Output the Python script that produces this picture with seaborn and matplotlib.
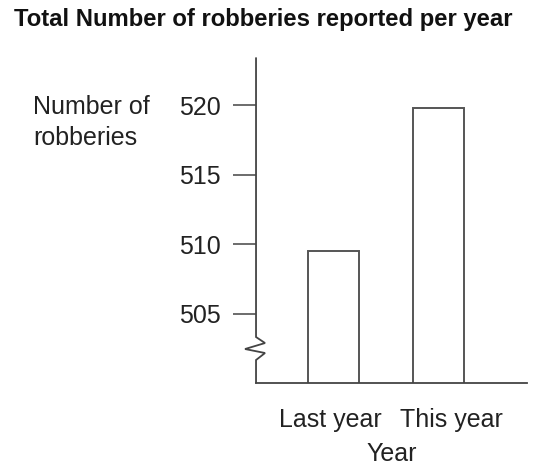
import matplotlib
matplotlib.use("Agg")
import matplotlib.pyplot as plt
import seaborn as sns
import pandas as pd

# Robberies reported per year
years = ["Last year", "This year"]
robberies = [509.5, 519.8]
y_ticks = [505, 510, 515, 520]

sns.set_theme(style="white")
plt.rcParams["font.family"] = ["Liberation Sans", "DejaVu Sans"]

line_col = "#444444"
df = pd.DataFrame({"Year": years, "Robberies": robberies})

fig = plt.figure(figsize=(5.5, 4.68), dpi=100)
ax = fig.add_axes([0.4655, 0.1816, 0.4927, 0.6944])

sns.barplot(data=df, x="Year", y="Robberies", order=years, color="white",
            edgecolor="#555555", linewidth=1.4, width=0.486, ax=ax,
            saturation=1)

ax.set_ylim(500, 523.4)
ax.set_xlim(-0.738, 1.843)
ax.set_yticks(y_ticks)
ax.set_yticklabels([str(t) for t in y_ticks], fontsize=18, color="#222222")
ax.set_xticks([-0.03, 1.12])
ax.set_xticklabels(years, fontsize=18, color="#222222")

ax.tick_params(axis="y", direction="out", length=16.5, width=1.1,
               color=line_col, pad=9, left=True)
ax.tick_params(axis="x", length=0, pad=18)

for side in ["top", "right", "left"]:
    ax.spines[side].set_visible(False)
ax.spines["bottom"].set_color(line_col)
ax.spines["bottom"].set_linewidth(1.3)

# Vertical axis with a zigzag break near the baseline
brk_x = [0, 0, 0.0332, -0.0406, 0.0332, 0, 0]
brk_y = [1.0, 0.1415, 0.123, 0.1046, 0.0923, 0.0708, 0.0]
ax.plot(brk_x, brk_y, transform=ax.transAxes, color=line_col, lw=1.3,
        clip_on=False, solid_joinstyle="miter")

ax.set_xlabel("Year", fontsize=18, color="#222222", labelpad=7)
ax.set_ylabel("Number of\nrobberies", fontsize=18, color="#222222",
              rotation=0, ha="left", va="top", linespacing=1.36)
ax.yaxis.set_label_coords(-0.823, 0.887)

fig.text(0.479, 0.958, "Total Number of robberies reported per year",
         ha="center", va="center", fontsize=17.2, fontweight="bold",
         color="#111111")

fig.savefig("out.png", dpi=100, facecolor="white")
